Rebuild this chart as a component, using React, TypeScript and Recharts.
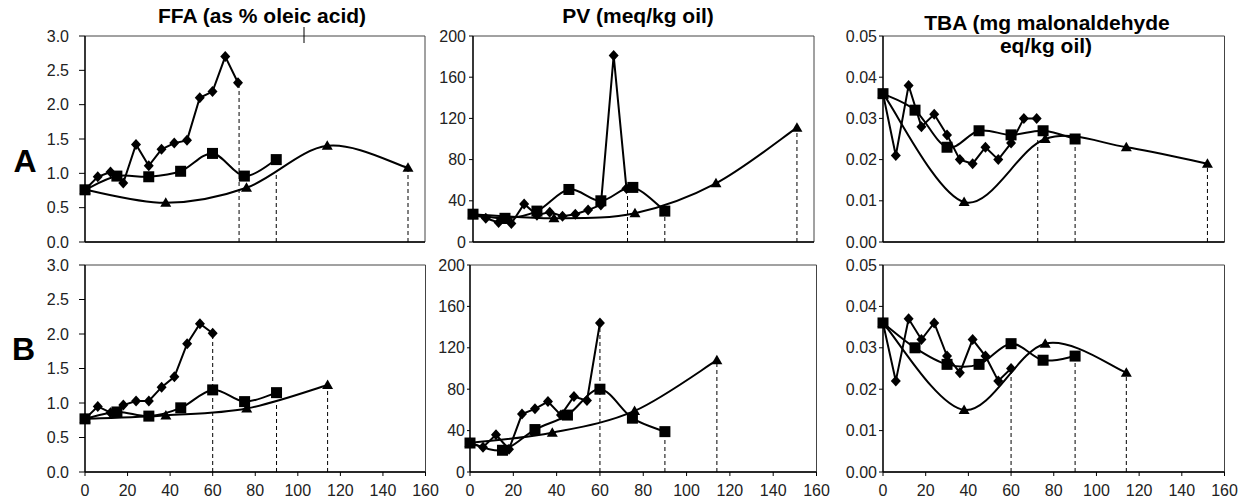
import React from "react";
import {
  LineChart,
  Line,
  XAxis,
  YAxis,
  ReferenceLine,
  ReferenceArea,
} from "recharts";

// sampling days
const xTicks = [0, 20, 40, 60, 80, 100, 120, 140, 160];
const diamondDaysA = [0, 6, 12, 18, 24, 30, 36, 42, 48, 54, 60, 66, 72];
const diamondDaysB = [0, 6, 12, 18, 24, 30, 36, 42, 48, 54, 60];
const squareDays = [0, 15, 30, 45, 60, 75, 90];
const triangleDaysA = [0, 38, 76, 114, 152];
const triangleDaysB = [0, 38, 76, 114];

// row A
const ffaDiamondA = [0.76, 0.95, 1.02, 0.86, 1.42, 1.11, 1.35, 1.44, 1.48, 2.1, 2.19, 2.7, 2.32];
const ffaSquareA = [0.76, 0.96, 0.95, 1.03, 1.29, 0.96, 1.2];
const ffaTriangleA = [0.76, 0.57, 0.79, 1.4, 1.08];
const pvDiamondA = [27, 23, 19, 18, 37, 26, 29, 25, 27, 31, 36, 181, 52];
const pvSquareA = [27, 23, 30, 51, 40, 53, 30];
const pvTriangleA = [27, 23, 28, 57, 111];
const tbaDiamondA = [0.036, 0.021, 0.038, 0.028, 0.031, 0.026, 0.02, 0.019, 0.023, 0.02, 0.024, 0.03, 0.03];
const tbaSquareA = [0.036, 0.032, 0.023, 0.027, 0.026, 0.027, 0.025];
const tbaTriangleA = [0.036, 0.0097, 0.025, 0.023, 0.019];

// row B
const ffaDiamondB = [0.77, 0.95, 0.86, 0.97, 1.03, 1.03, 1.23, 1.38, 1.86, 2.15, 2.01];
const ffaSquareB = [0.77, 0.87, 0.81, 0.93, 1.19, 1.02, 1.15];
const ffaTriangleB = [0.77, 0.82, 0.92, 1.26];
const pvDiamondB = [28, 24, 36, 22, 56, 61, 68, 55, 73, 69, 144];
const pvSquareB = [28, 21, 41, 55, 80, 52, 39];
const pvTriangleB = [28, 38, 59, 108];
const tbaDiamondB = [0.036, 0.022, 0.037, 0.032, 0.036, 0.028, 0.024, 0.032, 0.028, 0.022, 0.025];
const tbaSquareB = [0.036, 0.03, 0.026, 0.026, 0.031, 0.027, 0.028];
const tbaTriangleB = [0.036, 0.015, 0.031, 0.024];

// dashed drop lines [day, top value]
const ffaDropsA = [[72.5, 2.32], [90, 1.0], [152, 1.08]];
const pvDropsA = [[72.5, 52], [90, 30], [152, 111]];
const tbaDropsA = [[72.5, 0.025], [90, 0.025], [152, 0.019]];
const ffaDropsB = [[60, 2.01], [90, 1.02], [114, 1.26]];
const pvDropsB = [[60, 144], [90, 39], [114, 108]];
const tbaDropsB = [[60, 0.024], [90, 0.028], [114, 0.024]];

const ffaTicks = [0, 0.5, 1, 1.5, 2, 2.5, 3];
const pvTicks = [0, 40, 80, 120, 160, 200];
const tbaTicks = [0, 0.01, 0.02, 0.03, 0.04, 0.05];

const FONT = "'Liberation Sans', Arial, sans-serif";

const zip = (xs: number[], ys: number[]) => xs.map((x, i) => ({ x, y: ys[i] }));

// excel-like smoothed line (catmull-rom through the points)
const smoothCurve = (ctx: any) => {
  let pts: number[][] = [];
  return {
    areaStart() {},
    areaEnd() {},
    lineStart() {
      pts = [];
    },
    point(x: number, y: number) {
      pts.push([+x, +y]);
    },
    lineEnd() {
      if (!pts.length) return;
      ctx.moveTo(pts[0][0], pts[0][1]);
      for (let i = 0; i < pts.length - 1; i++) {
        const p0 = pts[Math.max(i - 1, 0)];
        const p1 = pts[i];
        const p2 = pts[i + 1];
        const p3 = pts[Math.min(i + 2, pts.length - 1)];
        ctx.bezierCurveTo(
          p1[0] + (p2[0] - p0[0]) / 6,
          p1[1] + (p2[1] - p0[1]) / 6,
          p2[0] - (p3[0] - p1[0]) / 6,
          p2[1] - (p3[1] - p1[1]) / 6,
          p2[0],
          p2[1]
        );
      }
    },
  };
};

const diamondDot = (p: any) => {
  const { cx, cy, index } = p;
  return (
    <path
      key={`d${index}`}
      d={`M${cx},${cy - 5.5}L${cx + 5},${cy}L${cx},${cy + 5.5}L${cx - 5},${cy}Z`}
      fill="#000"
    />
  );
};

const squareDot = (p: any) => {
  const { cx, cy, index } = p;
  return <rect key={`s${index}`} x={cx - 5.5} y={cy - 5.5} width={11} height={11} fill="#000" />;
};

const triangleDot = (p: any) => {
  const { cx, cy, index } = p;
  return (
    <path
      key={`t${index}`}
      d={`M${cx},${cy - 5.5}L${cx + 5.5},${cy + 4}L${cx - 5.5},${cy + 4}Z`}
      fill="#000"
    />
  );
};

interface PanelProps {
  left: number;
  top: number;
  width: number;
  height: number;
  yMax: number;
  yTicks: number[];
  digits: number;
  tickSize: number;
  tickMargin: number;
  showX: boolean;
  diamonds: { x: number; y: number }[];
  squares: { x: number; y: number }[];
  triangles: { x: number; y: number }[];
  drops: number[][];
}

function Panel(props: PanelProps) {
  const { left, top, width, height, yMax, yTicks, digits, tickSize, tickMargin, showX } = props;
  const tickStyle = { fill: "#222", fontSize: 16, fontFamily: FONT };
  return (
    <div style={{ position: "absolute", left: left - 60, top: top - 10 }}>
      <LineChart
        width={60 + width + 25}
        height={10 + height + 30}
        margin={{ top: 10, right: 25, left: 0, bottom: 0 }}
      >
        <ReferenceArea
          x1={0}
          x2={160}
          y1={0}
          y2={yMax}
          fill="none"
          stroke="#444"
          strokeWidth={1}
          ifOverflow="visible"
        />
        <XAxis
          type="number"
          dataKey="x"
          domain={[0, 160]}
          ticks={xTicks}
          height={30}
          axisLine={{ stroke: "#000", strokeWidth: 1.3 }}
          tickLine={showX ? { stroke: "#000" } : false}
          tick={showX ? tickStyle : false}
          tickSize={4}
          tickMargin={9}
          interval={0}
        />
        <YAxis
          type="number"
          dataKey="y"
          domain={[0, yMax]}
          ticks={yTicks}
          width={60}
          axisLine={{ stroke: "#000", strokeWidth: 1.3 }}
          tickLine={{ stroke: "#000" }}
          tick={tickStyle}
          tickSize={tickSize}
          tickMargin={tickMargin}
          interval={0}
          tickFormatter={(v: number) => v.toFixed(digits)}
        />
        {props.drops.map((d, i) => (
          <ReferenceLine
            key={i}
            segment={[
              { x: d[0], y: 0 },
              { x: d[0], y: d[1] },
            ]}
            stroke="#000"
            strokeWidth={1}
            strokeDasharray="4 3"
          />
        ))}
        <Line
          data={props.diamonds}
          dataKey="y"
          type="linear"
          stroke="#000"
          strokeWidth={2}
          dot={diamondDot}
          isAnimationActive={false}
        />
        <Line
          data={props.triangles}
          dataKey="y"
          type={smoothCurve as any}
          stroke="#000"
          strokeWidth={2}
          dot={triangleDot}
          isAnimationActive={false}
        />
        <Line
          data={props.squares}
          dataKey="y"
          type={smoothCurve as any}
          stroke="#000"
          strokeWidth={2}
          dot={squareDot}
          isAnimationActive={false}
        />
      </LineChart>
    </div>
  );
}

export default function App() {
  return (
    <div
      style={{
        position: "absolute",
        left: 0,
        top: 0,
        width: 1249,
        height: 499,
        background: "#fff",
        overflow: "hidden",
        fontFamily: FONT,
      }}
    >
      {/* row A */}
      <Panel left={84.5} top={36} width={340} height={206} yMax={3} yTicks={ffaTicks} digits={1}
        tickSize={6} tickMargin={10} showX={false}
        diamonds={zip(diamondDaysA, ffaDiamondA)} squares={zip(squareDays, ffaSquareA)}
        triangles={zip(triangleDaysA, ffaTriangleA)} drops={ffaDropsA} />
      <Panel left={473} top={36} width={341} height={206} yMax={200} yTicks={pvTicks} digits={0}
        tickSize={4} tickMargin={3} showX={false}
        diamonds={zip(diamondDaysA, pvDiamondA)} squares={zip(squareDays, pvSquareA)}
        triangles={zip(triangleDaysA, pvTriangleA)} drops={pvDropsA} />
      <Panel left={882.7} top={36} width={341.5} height={206} yMax={0.05} yTicks={tbaTicks} digits={2}
        tickSize={4} tickMargin={2} showX={false}
        diamonds={zip(diamondDaysA, tbaDiamondA)} squares={zip(squareDays, tbaSquareA)}
        triangles={zip(triangleDaysA, tbaTriangleA)} drops={tbaDropsA} />

      {/* row B */}
      <Panel left={84.5} top={265} width={340.5} height={207} yMax={3} yTicks={ffaTicks} digits={1}
        tickSize={6} tickMargin={10} showX={true}
        diamonds={zip(diamondDaysB, ffaDiamondB)} squares={zip(squareDays, ffaSquareB)}
        triangles={zip(triangleDaysB, ffaTriangleB)} drops={ffaDropsB} />
      <Panel left={469.5} top={265} width={346.5} height={207} yMax={200} yTicks={pvTicks} digits={0}
        tickSize={3} tickMargin={2} showX={true}
        diamonds={zip(diamondDaysB, pvDiamondB)} squares={zip(squareDays, pvSquareB)}
        triangles={zip(triangleDaysB, pvTriangleB)} drops={pvDropsB} />
      <Panel left={882.7} top={265} width={341.5} height={207} yMax={0.05} yTicks={tbaTicks} digits={2}
        tickSize={4} tickMargin={2} showX={true}
        diamonds={zip(diamondDaysB, tbaDiamondB)} squares={zip(squareDays, tbaSquareB)}
        triangles={zip(triangleDaysB, tbaTriangleB)} drops={tbaDropsB} />

      <svg
        width={1249}
        height={499}
        style={{ position: "absolute", left: 0, top: 0, pointerEvents: "none" }}
      >
        <g fontFamily={FONT} fontWeight="bold" fill="#000" textAnchor="middle">
          <text x={262} y={23} fontSize={21}>FFA (as % oleic acid)</text>
          <text x={638} y={23} fontSize={21}>PV (meq/kg oil)</text>
          <text x={1047} y={30} fontSize={21}>TBA (mg malonaldehyde</text>
          <text x={1046} y={53} fontSize={21}>eq/kg oil)</text>
          <text x={25} y={172} fontSize={32}>A</text>
          <text x={23.5} y={360} fontSize={32}>B</text>
        </g>
        <line x1={304} y1={27} x2={304} y2={43} stroke="#000" strokeWidth={1} />
      </svg>
    </div>
  );
}
